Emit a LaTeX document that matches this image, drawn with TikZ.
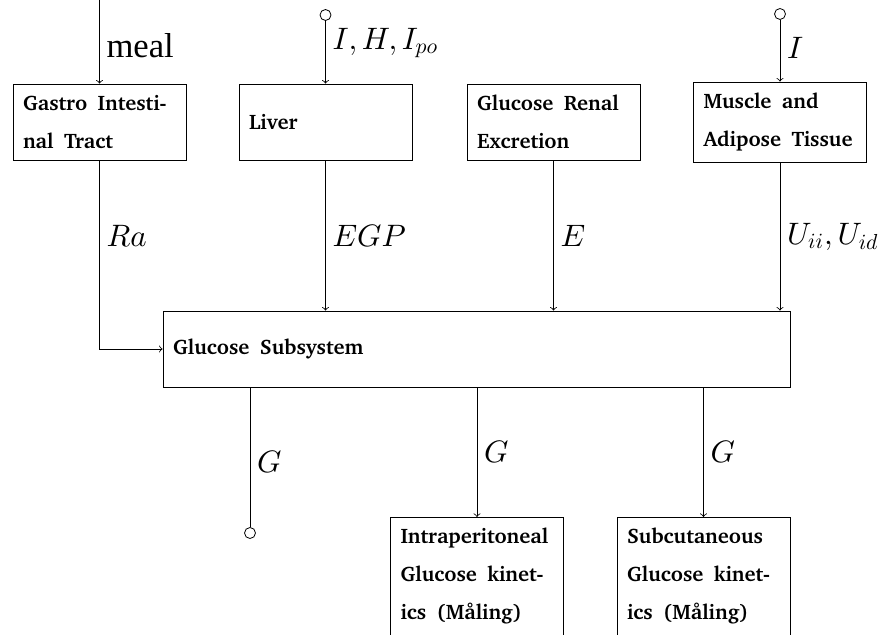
\documentclass[tikz,border=0pt]{standalone}
\usepackage[T1]{fontenc}
\usepackage{fontspec}
\usepackage{tikz}
\DeclareFontShape{OML}{cmm}{m}{it}{<-6>cmmi5<6-8>cmmi7<8->cmmi10}{}
\newfontfamily\mealfont{Liberation Serif}
\newcommand{\boxfont}{\fontencoding{T1}\fontfamily{bch}\fontseries{b}\fontsize{10.5}{19}\selectfont}
\tikzset{
    sys-box/.style = {draw, rectangle, inner sep=5pt, text width=76.5pt, minimum height=38pt, align=left, font=\boxfont,
        execute at begin node={\spaceskip=.5em plus .2em minus .1em\relax}},
    sig-label/.style = {font=\fontsize{15.5}{18}\selectfont},
    port/.style = {draw, circle, inner sep=0pt, minimum size=5.5pt},
}

\begin{document}
\begin{tikzpicture}[x=0.5pt, y=-0.5pt]
\useasboundingbox (0,0) rectangle (887,635);

% subsystem blocks
\node[sys-box] (gastro) at (99.5,122) {Gastro Intesti-\\nal Tract};
\node[sys-box] (liver) at (325.5,122) {Liver};
\node[sys-box] (renal) at (553.5,122) {Glucose Renal\\Excretion};
\node[sys-box, minimum height=40pt] (muscle) at (780,122) {Muscle and\\Adipose Tissue};
\node[sys-box, text width=303.5pt] (subsys) at (476.5,349) {Glucose Subsystem};
\node[sys-box, anchor=north] (intra) at (477,517) {Intraperitoneal\\Glucose kinet-\\ics (M\aa ling)\rule[-10pt]{0pt}{10pt}};
\node[sys-box, anchor=north] (subcut) at (703.5,517) {Subcutaneous\\Glucose kinet-\\ics (M\aa ling)\rule[-10pt]{0pt}{10pt}};

% inputs
\coordinate (mealin) at (99.5,0);
\node[port] (liverin) at (325.5,15) {};
\node[port] (musclein) at (780,14) {};
\draw[->] (mealin) -- (gastro) node[pos=0.55, right, font=\mealfont\fontsize{17.3}{20}\selectfont] {meal};
\draw[->] (liverin) -- (liver) node[pos=0.35, right, sig-label] {$I, H, I_{po}$};
\draw[->] (musclein) -- (muscle) node[pos=0.45, right, sig-label] {$I$};

% fluxes into the glucose subsystem
\draw[->] (gastro) |- (subsys) node[pos=0.2, right, sig-label] {$Ra$};
\draw[->] (liver) -- (liver |- subsys.north) node[midway, right, sig-label] {$EGP$};
\draw[->] (renal) -- (renal |- subsys.north) node[midway, right, sig-label] {$E$};
\draw[->] (muscle) -- (muscle |- subsys.north) node[midway, right, sig-label] {$U_{ii}, U_{id}$};

% outputs
\node[port] (gout) at (250,533) {};
\draw (subsys.south -| gout) -- (gout) node[pos=0.53, right, sig-label] {$G$};
\draw[->] (subsys.south -| intra) -- (intra) node[midway, right, sig-label] {$G$};
\draw[->] (subsys.south -| subcut) -- (subcut) node[midway, right, sig-label] {$G$};
\end{tikzpicture}
\end{document}
